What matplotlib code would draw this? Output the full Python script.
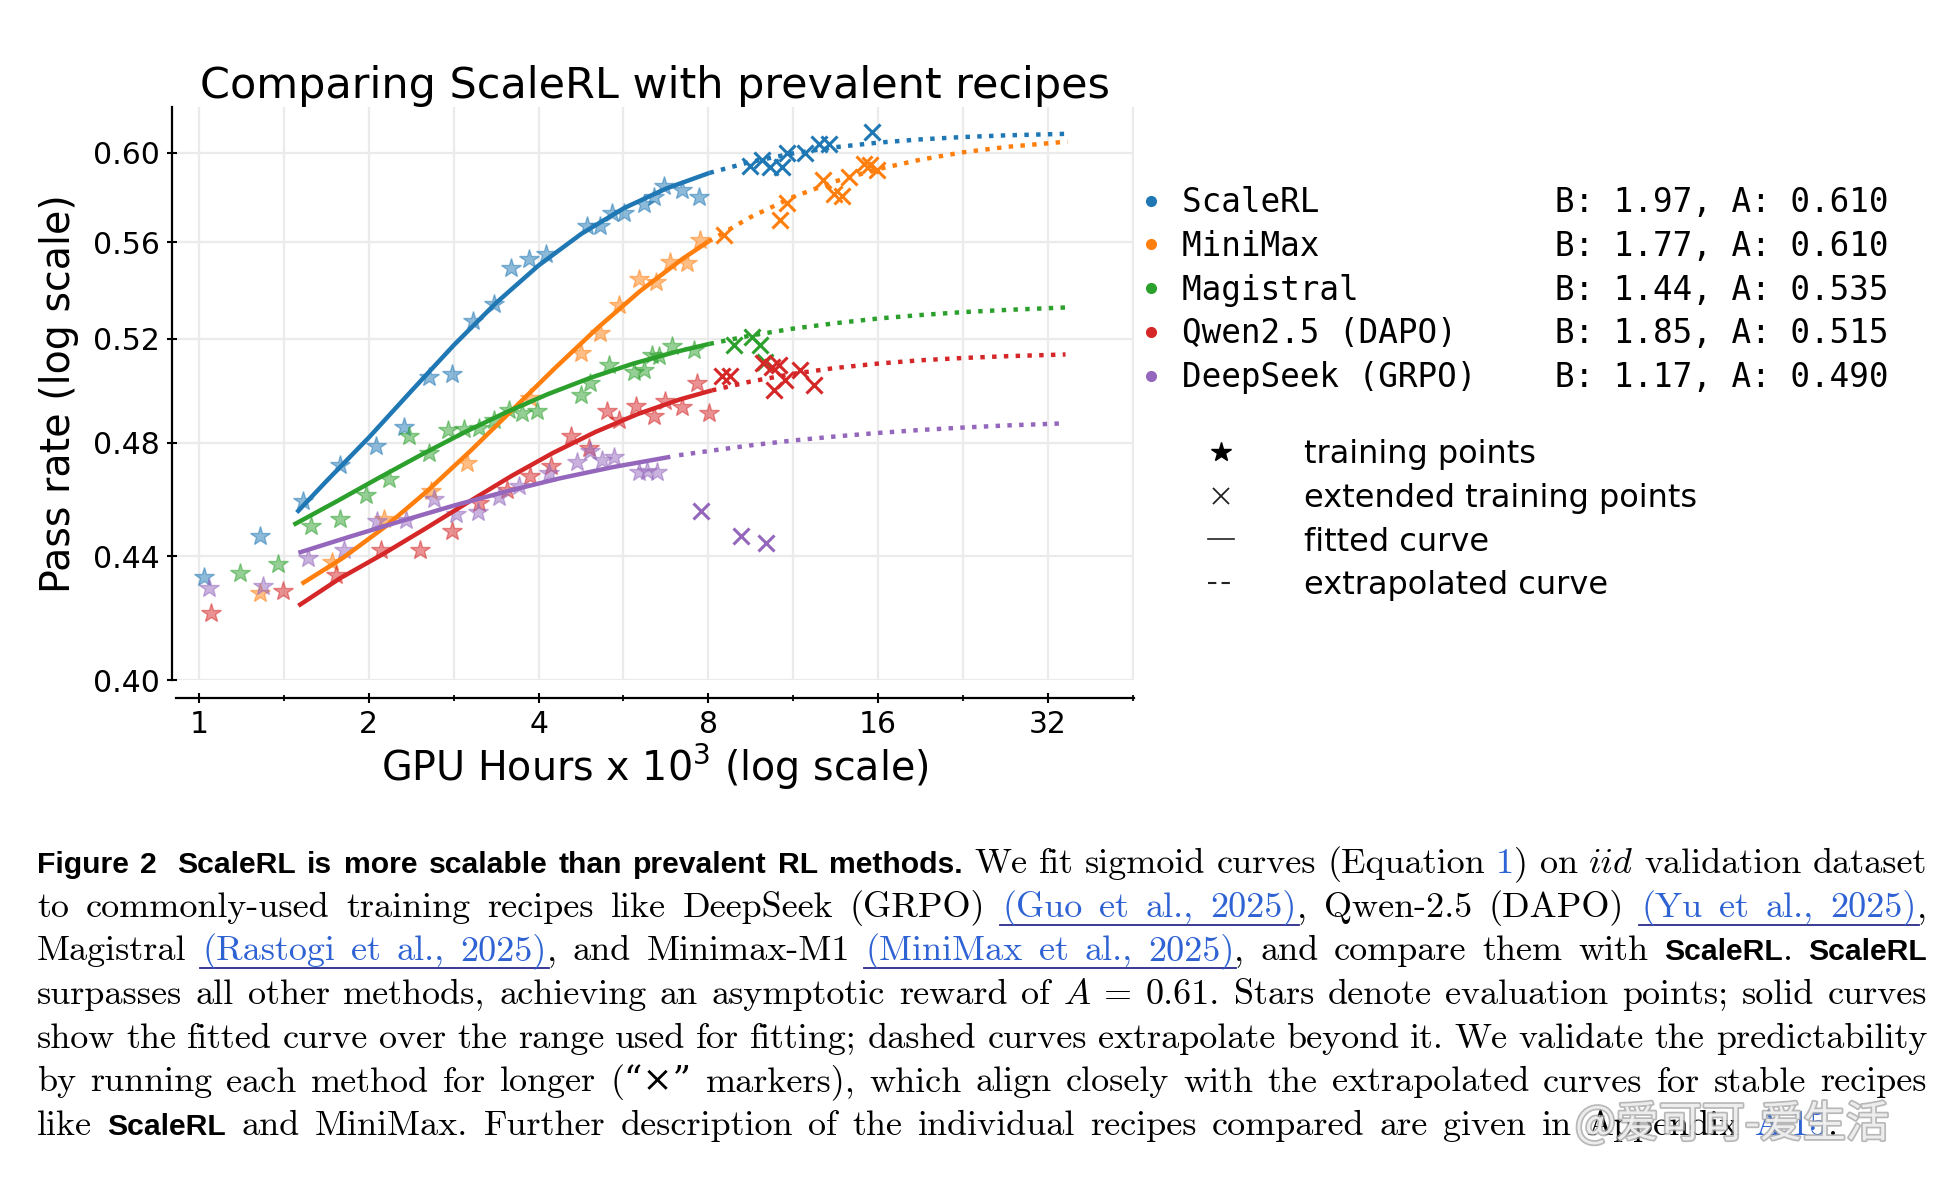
import matplotlib
matplotlib.use("Agg")
import matplotlib.pyplot as plt
from matplotlib.lines import Line2D
from matplotlib.ticker import FixedLocator, FixedFormatter, NullLocator, NullFormatter
from matplotlib import patheffects

# ---- data (GPU hours in thousands, pass rate) ----
methods = ["ScaleRL", "MiniMax", "Magistral", "Qwen2.5 (DAPO)", "DeepSeek (GRPO)"]
colours = ["#1f77b4", "#ff7f0e", "#2ca02c", "#d62728", "#9467bd"]
fit_B = [1.97, 1.77, 1.44, 1.85, 1.17]
fit_A = [0.610, 0.610, 0.535, 0.515, 0.490]

scalerl_star_x = [1.02, 1.28, 1.53, 1.78, 2.06, 2.31, 2.56, 2.81, 3.06, 3.33, 3.58, 3.85, 4.12, 4.88, 5.15, 5.40, 5.66, 6.14, 6.40, 6.67, 7.19, 7.69]
scalerl_star_y = [0.433, 0.447, 0.459, 0.472, 0.479, 0.486, 0.505, 0.506, 0.527, 0.534, 0.549, 0.553, 0.555, 0.567, 0.567, 0.573, 0.573, 0.577, 0.580, 0.585, 0.583, 0.580]
scalerl_cross_x = [9.50, 9.96, 10.30, 10.81, 11.03, 11.88, 12.55, 13.07, 15.6]
scalerl_cross_y = [0.594, 0.5965, 0.5935, 0.5935, 0.600, 0.600, 0.604, 0.604, 0.6096]
scalerl_fit_x = [1.49, 1.68, 2.0, 2.38, 2.83, 3.36, 4.0, 4.76, 5.66, 6.73, 8.04]
scalerl_fit_y = [0.455, 0.466, 0.482, 0.4996, 0.5175, 0.5345, 0.5502, 0.5637, 0.5749, 0.5837, 0.5908]
scalerl_extra_x = [8.04, 9.5, 11.3, 13.45, 16, 19, 22.6, 27, 34.4]
scalerl_extra_y = [0.5908, 0.5958, 0.5997, 0.6026, 0.6047, 0.6062, 0.6073, 0.6081, 0.6088]

minimax_star_x = [1.28, 1.72, 2.13, 2.58, 2.99, 3.87, 4.75, 5.15, 5.55, 6.02, 6.45, 6.85, 7.33, 7.74]
minimax_star_y = [0.4278, 0.4379, 0.4526, 0.4625, 0.4727, 0.497, 0.5143, 0.5223, 0.5337, 0.5447, 0.5433, 0.5518, 0.5511, 0.561]
minimax_cross_x = [8.52, 10.73, 11.03, 12.8, 13.34, 13.8, 14.2, 15.08, 15.5, 15.9]
minimax_cross_y = [0.5632, 0.5697, 0.5771, 0.5875, 0.5815, 0.5806, 0.589, 0.595, 0.5943, 0.592]
minimax_fit_x = [1.52, 1.8, 2.14, 2.54, 3.03, 3.6, 4.28, 5.09, 6.05, 7.2, 8.0]
minimax_fit_y = [0.4307, 0.4394, 0.4501, 0.4626, 0.4771, 0.4925, 0.5085, 0.5244, 0.5394, 0.553, 0.5604]
minimax_extra_x = [8.0, 9.5, 11.3, 13.45, 16, 19, 22.6, 27, 34.7]
minimax_extra_y = [0.5604, 0.571, 0.5799, 0.587, 0.5925, 0.5968, 0.6002, 0.6027, 0.6052]

magistral_star_x = [1.18, 1.38, 1.58, 1.78, 1.98, 2.17, 2.36, 2.56, 2.76, 2.95, 3.14, 3.33, 3.54, 3.74, 3.97, 4.75, 4.94, 5.33, 5.9, 6.15, 6.36, 6.53, 6.9, 7.54]
magistral_star_y = [0.4344, 0.4372, 0.4502, 0.4528, 0.4613, 0.4667, 0.4825, 0.4763, 0.4847, 0.4851, 0.4855, 0.4886, 0.4922, 0.4912, 0.492, 0.4981, 0.5026, 0.5097, 0.5071, 0.5076, 0.5137, 0.5131, 0.517, 0.5157]
magistral_cross_x = [8.87, 9.56, 9.89, 10.1]
magistral_cross_y = [0.5176, 0.5209, 0.5176, 0.511]
magistral_fit_x = [1.47, 1.75, 2.08, 2.47, 2.94, 3.5, 4.16, 4.95, 5.89, 7.0, 8.04]
magistral_fit_y = [0.4507, 0.4588, 0.4672, 0.4755, 0.4837, 0.4914, 0.4984, 0.5047, 0.5102, 0.5148, 0.518]
magistral_extra_x = [8.04, 9.5, 11.3, 13.45, 16, 19, 22.6, 27, 34.4]
magistral_extra_y = [0.518, 0.5213, 0.5241, 0.5263, 0.5282, 0.5296, 0.5308, 0.5317, 0.5327]

qwen_star_x = [1.05, 1.41, 1.75, 2.10, 2.46, 2.81, 3.14, 3.52, 3.87, 4.2, 4.56, 4.91, 5.29, 5.55, 5.96, 6.4, 6.71, 7.19, 7.64, 8.01]
qwen_star_y = [0.4213, 0.4283, 0.4335, 0.442, 0.442, 0.4485, 0.4584, 0.4631, 0.4678, 0.4715, 0.4825, 0.4782, 0.4918, 0.4886, 0.4939, 0.4899, 0.4956, 0.4933, 0.5026, 0.4912]
qwen_cross_x = [8.46, 8.75, 10.02, 10.37, 10.66, 10.44, 10.95, 11.64, 12.3]
qwen_cross_y = [0.5052, 0.5052, 0.5104, 0.509, 0.5097, 0.500, 0.5039, 0.5078, 0.502]
qwen_fit_x = [1.5, 1.78, 2.12, 2.52, 3.0, 3.57, 4.24, 5.05, 6.0, 7.14, 8.12]
qwen_fit_y = [0.4235, 0.4326, 0.4407, 0.4494, 0.4586, 0.4678, 0.4763, 0.4841, 0.4908, 0.4964, 0.4998]
qwen_extra_x = [8.12, 9.5, 11.3, 13.45, 16, 19, 22.6, 27, 34.4]
qwen_extra_y = [0.4998, 0.5032, 0.5062, 0.5085, 0.5102, 0.5115, 0.5124, 0.5131, 0.5138]

deepseek_star_x = [1.04, 1.30, 1.56, 1.81, 2.07, 2.33, 2.61, 2.85, 3.12, 3.40, 3.69, 4.17, 4.68, 4.94, 5.19, 5.44, 6.02, 6.23, 6.49]
deepseek_star_y = [0.4294, 0.4299, 0.4394, 0.442, 0.452, 0.4525, 0.4598, 0.4543, 0.455, 0.4605, 0.4645, 0.4691, 0.4729, 0.4769, 0.4737, 0.4749, 0.4693, 0.4697, 0.4693]
deepseek_cross_x = [7.78, 9.13, 10.14]
deepseek_cross_y = [0.4554, 0.4468, 0.4443]
deepseek_fit_x = [1.5, 1.85, 2.3, 2.85, 3.52, 4.36, 5.4, 6.85]
deepseek_fit_y = [0.4411, 0.4466, 0.4522, 0.4576, 0.4625, 0.4671, 0.4711, 0.4749]
deepseek_extra_x = [7.1, 8, 9.5, 11.3, 13.45, 16, 19, 22.6, 27, 34.4]
deepseek_extra_y = [0.4755, 0.477, 0.4791, 0.4809, 0.4824, 0.4837, 0.4848, 0.4857, 0.4865, 0.4873]

x_major = [1, 2, 4, 8, 16, 32]
x_minor = [1.414, 2.828, 5.657, 11.31, 22.63, 45.25]
y_ticks = [0.40, 0.44, 0.48, 0.52, 0.56, 0.60]

series = [
    (scalerl_star_x, scalerl_star_y, scalerl_cross_x, scalerl_cross_y, scalerl_fit_x, scalerl_fit_y, scalerl_extra_x, scalerl_extra_y),
    (minimax_star_x, minimax_star_y, minimax_cross_x, minimax_cross_y, minimax_fit_x, minimax_fit_y, minimax_extra_x, minimax_extra_y),
    (magistral_star_x, magistral_star_y, magistral_cross_x, magistral_cross_y, magistral_fit_x, magistral_fit_y, magistral_extra_x, magistral_extra_y),
    (qwen_star_x, qwen_star_y, qwen_cross_x, qwen_cross_y, qwen_fit_x, qwen_fit_y, qwen_extra_x, qwen_extra_y),
    (deepseek_star_x, deepseek_star_y, deepseek_cross_x, deepseek_cross_y, deepseek_fit_x, deepseek_fit_y, deepseek_extra_x, deepseek_extra_y),
]

W, H = 1958, 1178
fig = plt.figure(figsize=(W / 100, H / 100), dpi=100)
ax = fig.add_axes([176 / W, 1 - 680 / H, (1134 - 176) / W, (680 - 107) / H])

for (sx, sy, cx, cy, fx, fy, ex, ey), c in zip(series, colours):
    ax.plot(sx, sy, "*", color=c, ms=15, alpha=0.5, mew=1, zorder=2)
    ax.plot(fx, fy, "-", color=c, lw=3.2, zorder=3, solid_capstyle="butt")
    ax.plot(ex, ey, ":", color=c, lw=3.2, zorder=3)
    ax.plot(cx, cy, "x", color=c, ms=12, mew=2.2, zorder=4)

# axes, scales, ticks
ax.set_xscale("log", base=2)
ax.set_yscale("log")
ax.set_xlim(0.91, 45.5)
ax.set_ylim(0.40, 0.6215)
ax.xaxis.set_major_locator(FixedLocator(x_major))
ax.xaxis.set_major_formatter(FixedFormatter([str(v) for v in x_major]))
ax.xaxis.set_minor_locator(FixedLocator(x_minor))
ax.xaxis.set_minor_formatter(NullFormatter())
ax.yaxis.set_major_locator(FixedLocator(y_ticks))
ax.yaxis.set_major_formatter(FixedFormatter(["%.2f" % v for v in y_ticks]))
ax.yaxis.set_minor_locator(NullLocator())
ax.yaxis.set_minor_formatter(NullFormatter())

ax.grid(True, which="major", color="#ebebeb", lw=1.6)
ax.grid(True, which="minor", axis="x", color="#ebebeb", lw=1.6)
ax.set_axisbelow(True)
for side in ["top", "right"]:
    ax.spines[side].set_visible(False)
ax.spines["left"].set_position(("outward", 3))
ax.spines["bottom"].set_position(("outward", 13))
for side in ["left", "bottom"]:
    ax.spines[side].set_linewidth(1.6)
ax.tick_params(axis="both", which="major", direction="inout", length=7, width=1.5, labelsize=21.5, pad=5)
ax.tick_params(axis="x", which="minor", direction="inout", length=5, width=1.3)

ax.set_title("Comparing ScaleRL with prevalent recipes", fontsize=31, pad=6)
ax.set_xlabel("GPU Hours x $10^3$ (log scale)", fontsize=28.5, labelpad=2)
ax.set_ylabel("Pass rate (log scale)", fontsize=28.5, labelpad=10)

# legends
method_handles = [Line2D([], [], marker="o", ls="", color=c, ms=7) for c in colours]
method_labels = [f"{m:<19}B: {b:.2f}, A: {a:.3f}" for m, b, a in zip(methods, fit_B, fit_A)]
fig.legend(method_handles, method_labels, loc="upper left", bbox_to_anchor=(1138 / W, 1 - 186 / H),
           prop={"family": "DejaVu Sans Mono", "size": 23.5}, frameon=False, handlelength=0.8,
           handletextpad=0.55, labelspacing=0.33, borderpad=0, borderaxespad=0)

style_handles = [
    Line2D([], [], marker="*", ls="", color="k", ms=15),
    Line2D([], [], marker="x", ls="", color="#222222", ms=12, mew=1.3),
    Line2D([], [], ls="-", color="#222222", lw=1.2),
    Line2D([], [], ls=(0, (4, 2.5)), color="#222222", lw=1.5),
]
style_labels = ["training points", "extended training points", "fitted curve", "extrapolated curve"]
fig.legend(style_handles, style_labels, loc="upper left", bbox_to_anchor=(1208 / W, 1 - 439 / H),
           prop={"family": "DejaVu Sans", "size": 23}, frameon=False, handlelength=0.8,
           handletextpad=2.2, labelspacing=0.4, borderpad=0, borderaxespad=0)

# ---- caption ----
SERIF = ["cmr10", "DejaVu Serif"]
LINK = "#2f62d3"
styles = {
    "rm": dict(family=SERIF, size=26, color="black"),
    "link": dict(family=SERIF, size=26, color=LINK),
    "num": dict(family=SERIF, size=26, color=LINK),
    "it": dict(family=["cmmi10", "DejaVu Serif"], size=26, color="black"),
    "bf": dict(family="Liberation Sans", weight="bold", size=21.7, color="black"),
}

caption = [
    [("Figure 2  ScaleRL is more scalable than prevalent RL methods.", "bf"), (" We fit sigmoid curves (Equation ", "rm"),
     ("1", "num"), (") on ", "rm"), ("iid", "it"), (" validation dataset", "rm")],
    [("to commonly-used training recipes like DeepSeek (GRPO) ", "rm"), ("(Guo et al., 2025)", "link"),
     (", Qwen-2.5 (DAPO) ", "rm"), ("(Yu et al., 2025)", "link"), (",", "rm")],
    [("Magistral ", "rm"), ("(Rastogi et al., 2025)", "link"), (", and Minimax-M1 ", "rm"),
     ("(MiniMax et al., 2025)", "link"), (", and compare them with ", "rm"), ("ScaleRL", "bf"), (". ", "rm"), ("ScaleRL", "bf")],
    [("surpasses all other methods, achieving an asymptotic reward of ", "rm"), ("A", "it"),
     (" = 0.61. Stars denote evaluation points; solid curves", "rm")],
    [("show the fitted curve over the range used for fitting; dashed curves extrapolate beyond it. We validate the predictability", "rm")],
    [("by running each method for longer (\u201c\u00d7\u201d markers), which align closely with the extrapolated curves for stable recipes", "rm")],
    [("like ", "rm"), ("ScaleRL", "bf"), (" and MiniMax. Further description of the individual recipes compared are given in Appendix ", "rm"),
     ("A.15", "num"), (".", "rm")],
]
line_ends = [1927, 1927, 1927, 1927, 1927, 1927, 1838]
X0 = 37
EXTRA_SPACE = 9  # px added for a doubled space


def tokenize(segments):
    """Split segments into words; each word is (pieces, extra leading space)."""
    words = [[[], 0]]
    for text, st in segments:
        parts = text.split(" ")
        for i, part in enumerate(parts):
            if i > 0:
                if words[-1][0]:
                    words.append([[], 0])
                elif len(words) > 1:
                    words[-1][1] += EXTRA_SPACE
            if part:
                words[-1][0].append((part, st))
    return [w for w in words if w[0]]


renderer = fig.canvas.get_renderer()
for n, (segments, x_end) in enumerate(zip(caption, line_ends)):
    base = 873 + 43.7 * n
    words = tokenize(segments)
    placed, total = [], 0.0
    for pieces, extra in words:
        items = []
        for txt, st in pieces:
            t = fig.text(0, 1 - base / H, txt, va="baseline", ha="left", **styles[st])
            w = t.get_window_extent(renderer).width
            items.append((t, w, st))
            total += w
        total += extra
        placed.append((items, extra))
    gap = (x_end - X0 - total) / (len(words) - 1)
    x = X0
    run_start, runs = None, []
    for items, extra in placed:
        x += extra
        for t, w, st in items:
            t.set_x(x / W)
            if st == "link":
                if run_start is None:
                    run_start = x
                run_end = x + w
            elif run_start is not None:
                runs.append((run_start, run_end))
                run_start = None
            x += w
        x += gap
    if run_start is not None:
        runs.append((run_start, run_end))
    for a, b in runs:
        fig.add_artist(Line2D([(a - 2) / W, (b + 2) / W], [1 - (base + 8) / H] * 2, color="#2a2a8c", lw=1.3))

# watermark
fig.text(1575 / W, 1 - 1125 / H, "@爱可可-爱生活", family=["Noto Sans CJK SC", "DejaVu Sans"], size=31,
         color="white", alpha=0.75, va="center", ha="left",
         path_effects=[patheffects.withStroke(linewidth=2.5, foreground="#a0a0a0")])

fig.savefig("out.png", dpi=100)
